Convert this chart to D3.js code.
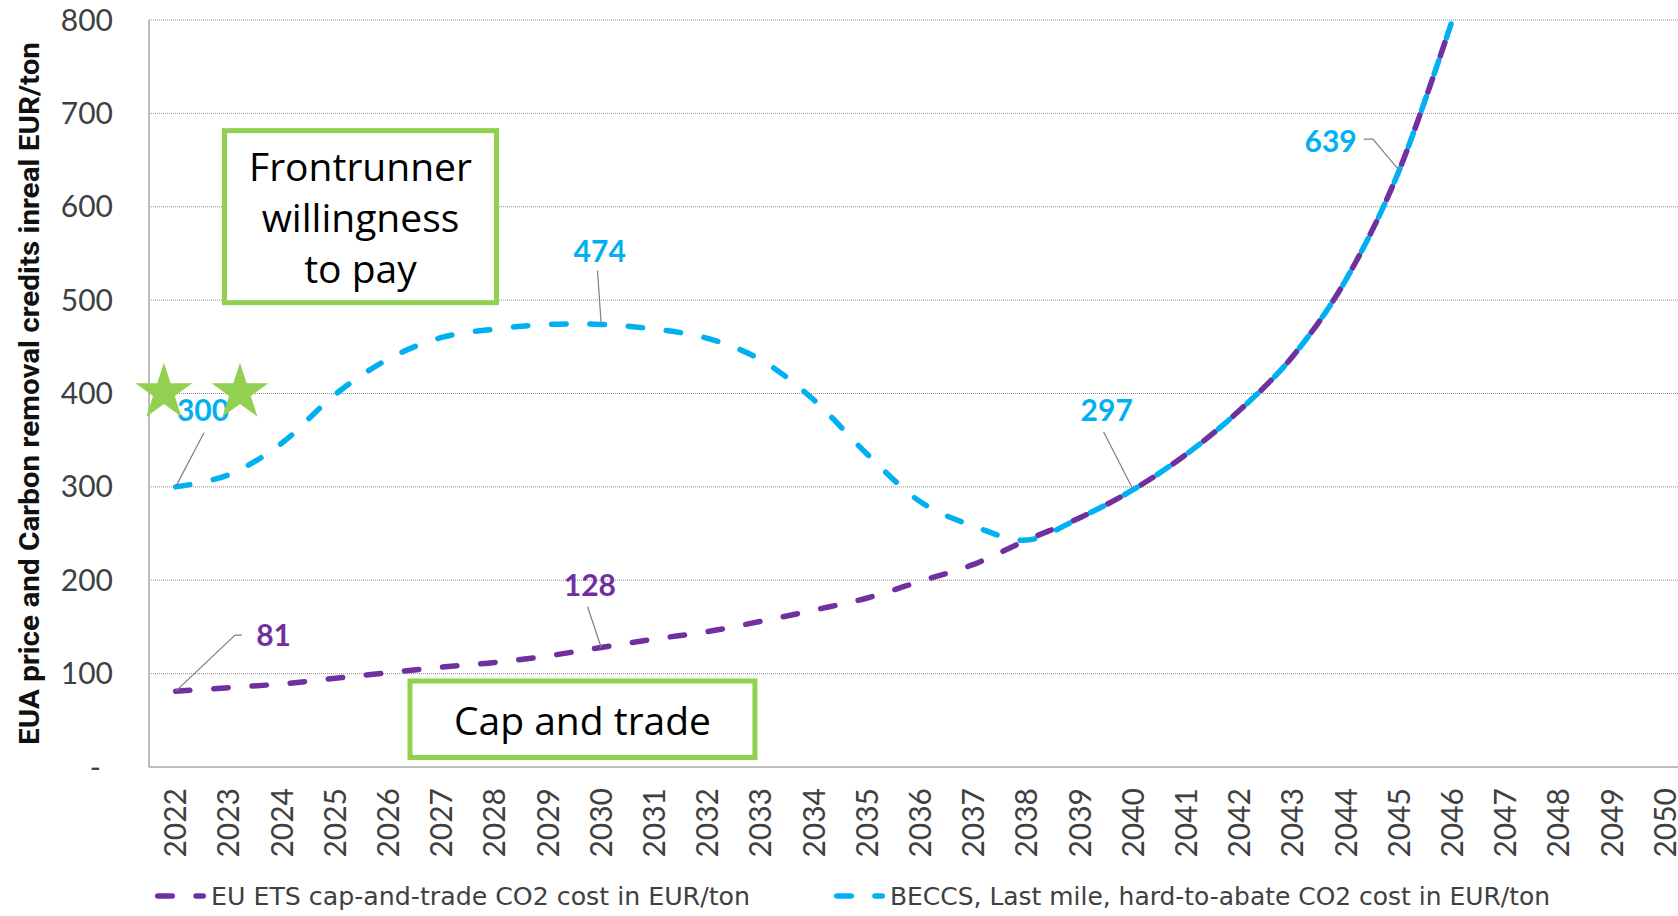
<!DOCTYPE html>
<html><head><meta charset="utf-8">
<script src="https://cdn.jsdelivr.net/npm/d3@7"></script>
<style>
html,body{margin:0;padding:0;background:#fff;}
svg{display:block;}
</style></head><body>
<svg id="chart" width="1678" height="916"></svg>
<script>
// ---------------- DATA ----------------
const years = [2022,2023,2024,2025,2026,2027,2028,2029,2030,2031,2032,2033,2034,2035,2036,2037,2038,2039,2040,2041,2042,2043,2044,2045,2046,2047,2048,2049,2050];
const yTickValues = [0,100,200,300,400,500,600,700,800];
const yTickLabels = ["-","100","200","300","400","500","600","700","800"];
// EU ETS cap-and-trade CO2 cost (EUR/ton), 2022..2046
const etsValues = [81,85,89,95,101,107,112,119,128,137,145,156,168,181,199,217,243,267,297,335,382,440,522,639,800];
// BECCS / last mile CO2 cost (EUR/ton), 2022..2046
const beccsValues = [300,313,347,399,437,460,469,474,474,469,459,436,393,335,284,258,243,267,297,335,382,440,522,639,800];
const etsLabels = [{year:2022,text:"81"},{year:2030,text:"128"}];
const beccsLabels = [{year:2022,text:"300"},{year:2030,text:"474"},{year:2040,text:"297"},{year:2045,text:"639"}];
const legendLabels = ["EU ETS cap-and-trade CO2 cost in EUR/ton","BECCS, Last mile, hard-to-abate CO2 cost in EUR/ton"];
const yTitle = "EUA price and Carbon removal credits inreal EUR/ton";
const boxTexts = [["Frontrunner","willingness","to pay"],["Cap and trade"]];
const starYears = [2021.78, 2023.21];
const starValue = 401;

// ---------------- LAYOUT / STYLE ----------------
const W = 1678, H = 916;
const plot = {left:149, top:20, bottom:767, right:1678, bandRight:1691.8};
const colors = {ets:"#7030A0", beccs:"#00B0F0", green:"#92D050", grid:"#8c8c8c", axis:"#a6a6a6", tick:"#404040", leader:"#7f7f7f"};
const dash = [14.5, 23.8];
// label offsets (px) relative to data point: text centre dx, baseline dy, leader polyline points
const labelLayout = {
  "ets-2022": {dx:98, dy:-45, leader:[[66.4,-56.3],[59.4,-56.3],[0,0]]},
  "ets-2030": {dx:-11.3, dy:-51.4, leader:[[-13.6,-40.7],[0,0]]},
  "beccs-2022": {dx:27.4, dy:-65.8, leader:[[28.4,-54.1],[0,0]]},
  "beccs-2030": {dx:-1.5, dy:-62.3, leader:[[-3.7,-53.6],[0,0]]},
  "beccs-2040": {dx:-26.5, dy:-68.6, leader:[[-29.7,-57.9],[0,0]]},
  "beccs-2045": {dx:-68.6, dy:-18.2, leader:[[-35.6,-31.2],[-26.3,-31.2],[0,0]]}
};
const boxLayout = [
  {x0:2022.919, x1:2028.032, v0:681.5, v1:497.3},
  {x0:2026.406, x1:2032.89, v0:92.1, v1:10.2}
];

const svg = d3.select("#chart");
const x = d3.scaleBand().domain(years).range([plot.left, plot.bandRight]).padding(0);
const xc = d => x(d) + x.bandwidth()/2;
const xLin = d3.scaleLinear().domain([years[0], years[years.length-1]]).range([xc(years[0]), xc(years[years.length-1])]);
const y = d3.scaleLinear().domain([0,800]).range([plot.bottom, plot.top]);

// gridlines
svg.append("g").selectAll("line").data(yTickValues.filter(v=>v>0)).join("line")
  .attr("x1", plot.left).attr("x2", plot.right)
  .attr("y1", d=>y(d)).attr("y2", d=>y(d))
  .attr("stroke", colors.grid).attr("stroke-width",1).attr("stroke-dasharray","1 1");
// axis lines
svg.append("line").attr("x1",plot.left).attr("x2",plot.right).attr("y1",y(0)).attr("y2",y(0))
  .attr("stroke",colors.axis).attr("stroke-width",1.5);
svg.append("line").attr("x1",plot.left).attr("x2",plot.left).attr("y1",y(800)).attr("y2",y(0))
  .attr("stroke",colors.axis).attr("stroke-width",1.5);

// y tick labels
svg.append("g").selectAll("text").data(yTickValues).join("text")
  .attr("x", (d,i)=> yTickLabels[i]==="-" ? 101 : 113)
  .attr("y", d=>y(d)).attr("dy","0.35em")
  .attr("text-anchor","end")
  .attr("font-family","Lato, 'Open Sans', sans-serif").attr("font-size",30)
  .attr("fill",colors.tick)
  .text((d,i)=>yTickLabels[i]);

// x tick labels
svg.append("g").selectAll("text").data(years).join("text")
  .attr("transform", d=>`translate(${xc(d)},788) rotate(-90)`)
  .attr("dy","0.35em").attr("text-anchor","end")
  .attr("font-family","Lato, 'Open Sans', sans-serif").attr("font-size",30)
  .attr("fill",colors.tick)
  .text(d=>d);

// y title
svg.append("text")
  .attr("transform",`translate(29,393.5) rotate(-90)`)
  .attr("dy","0.35em").attr("text-anchor","middle")
  .attr("font-family","Roboto, 'Liberation Sans', sans-serif").attr("font-weight",700).attr("font-size",28)
  .attr("textLength",703).attr("lengthAdjust","spacingAndGlyphs")
  .attr("fill","#111")
  .text(yTitle);

// clip
svg.append("defs").append("clipPath").attr("id","plotclip").append("rect")
  .attr("x",plot.left).attr("y",plot.top).attr("width",plot.right-plot.left).attr("height",plot.bottom-plot.top+10);

const line = d3.line().x(d=>xc(d.year)).y(d=>y(d.value)).curve(d3.curveCardinal.tension(0));
const etsData = etsValues.map((v,i)=>({year:years[i], value:v}));
const beccsData = beccsValues.map((v,i)=>({year:years[i], value:v}));

const gLines = svg.append("g").attr("clip-path","url(#plotclip)");
const pEts = gLines.append("path").datum(etsData).attr("d",line)
  .attr("fill","none").attr("stroke",colors.ets).attr("stroke-width",5.5)
  .attr("stroke-linecap","round").attr("stroke-dasharray",dash.join(" "));
const pBeccs = gLines.append("path").datum(beccsData).attr("d",line)
  .attr("fill","none").attr("stroke",colors.beccs).attr("stroke-width",5.5)
  .attr("stroke-linecap","round").attr("stroke-dasharray",dash.join(" "));

// align dash phases where the two lines coincide (from 2038 on)
function lengthAtX(path, tx){
  let lo=0, hi=path.getTotalLength();
  for(let i=0;i<40;i++){const m=(lo+hi)/2; if(path.getPointAtLength(m).x<tx) lo=m; else hi=m;}
  return lo;
}
const joinX = xc(2039);
const P = dash[0]+dash[1];
const Lb = lengthAtX(pBeccs.node(), joinX), Lp = lengthAtX(pEts.node(), joinX);
const off = (((Lb - Lp + P/2) % P) + P) % P;
pEts.attr("stroke-dashoffset", off);

// data labels
function drawLabels(labels, data, key, color){
  labels.forEach(l=>{
    const d = data.find(e=>e.year===l.year);
    const px = xc(d.year), py = y(d.value);
    const lay = labelLayout[key+"-"+l.year];
    svg.append("path")
      .attr("d", d3.line()(lay.leader.map(p=>[px+p[0], py+p[1]])))
      .attr("fill","none").attr("stroke",colors.leader).attr("stroke-width",1.2);
    svg.append("text").attr("x",px+lay.dx).attr("y",py+lay.dy)
      .attr("text-anchor","middle")
      .attr("font-family","Lato, 'Open Sans', sans-serif").attr("font-weight",700).attr("font-size",30)
      .attr("fill",color).text(l.text);
  });
}
drawLabels(etsLabels, etsData, "ets", colors.ets);
drawLabels(beccsLabels, beccsData, "beccs", colors.beccs);

// annotation boxes
const fs = 39, lh = 51;
boxLayout.forEach((b,i)=>{
  const x0 = xLin(b.x0), x1 = xLin(b.x1), y0 = y(b.v0), y1 = y(b.v1);
  svg.append("rect").attr("x",x0).attr("y",y0).attr("width",x1-x0).attr("height",y1-y0)
    .attr("fill","#fff").attr("stroke",colors.green).attr("stroke-width",5);
  const cx = (x0+x1)/2, cy = (y0+y1)/2, n = boxTexts[i].length;
  svg.append("g").selectAll("text").data(boxTexts[i]).join("text")
    .attr("x",cx).attr("y",(t,j)=>cy + (j-(n-1)/2)*lh + 0.4*fs)
    .attr("text-anchor","middle")
    .attr("font-family","'Open Sans', 'Noto Sans', sans-serif").attr("font-size",fs)
    .attr("fill","#000").text(t=>t);
});

// stars
svg.append("g").selectAll("path").data(starYears).join("path")
  .attr("transform", d=>`translate(${xLin(d)},${y(starValue)})`)
  .attr("d", d3.symbol(d3.symbolStar, 997)())
  .attr("fill", colors.green);

// legend
const legendX = [155, 834], legendY = 896, legendTextLen = [539, 660];
const legendColors = [colors.ets, colors.beccs];
legendLabels.forEach((t,i)=>{
  svg.append("line").attr("x1",legendX[i]+2.75).attr("x2",legendX[i]+48.25)
    .attr("y1",legendY).attr("y2",legendY)
    .attr("stroke",legendColors[i]).attr("stroke-width",5.5).attr("stroke-linecap","round")
    .attr("stroke-dasharray",dash.join(" "));
  svg.append("text").attr("x",legendX[i]+56).attr("y",legendY).attr("dy","0.36em")
    .attr("font-family","'Liberation Sans Narrow', 'DejaVu Sans Condensed', Lato, sans-serif").attr("font-size",25)
    .attr("textLength",legendTextLen[i]).attr("lengthAdjust","spacingAndGlyphs")
    .attr("fill",colors.tick).text(t);
});
</script>
</body></html>
